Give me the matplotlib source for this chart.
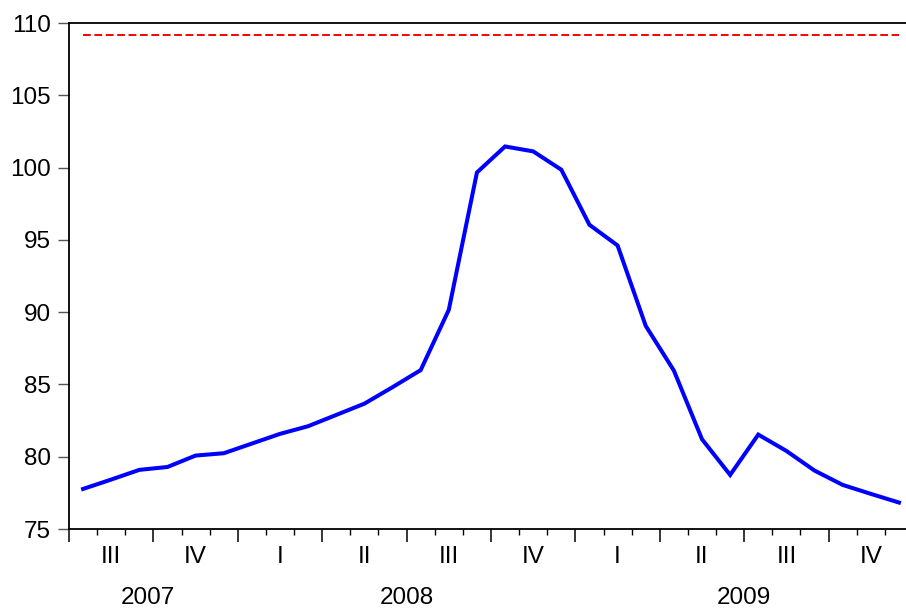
import matplotlib.pyplot as plt
from matplotlib.ticker import FixedLocator, NullFormatter
import matplotlib.transforms as mtransforms

plt.rcParams["font.family"] = ["Liberation Sans", "DejaVu Sans"]
plt.rcParams["lines.scale_dashes"] = False

# monthly index, Jul 2007 .. Dec 2009
index = [77.77, 78.42, 79.09, 79.29, 80.08, 80.24, 80.91, 81.58, 82.11, 82.89,
         83.67, 84.81, 85.99, 90.16, 99.66, 101.46, 101.12, 99.85, 96.04, 94.61,
         89.05, 85.96, 81.21, 78.74, 81.53, 80.40, 79.04, 78.05, 77.43, 76.83]
threshold = [109.2] * len(index)

quarter_labels = ["III", "IV", "I", "II", "III", "IV", "I", "II", "III", "IV"]
years = ["2007", "2008", "2009"]
quarters_per_year = [2, 4, 4]

x = [i + 0.5 for i in range(len(index))]

fig = plt.figure(figsize=(9.06, 6.15), dpi=100)
ax = fig.add_axes([69 / 906, 86 / 615, 844 / 906, 506 / 615])

ax.plot(x, threshold, color="#ff0000", lw=1.4, dashes=(5.6, 2.6))
ax.plot(x, index, color="#0000ff", lw=2.9, solid_joinstyle="miter")

ax.set_xlim(0, len(index))
ax.set_ylim(75, 110)
ax.set_yticks(range(75, 111, 5))

ax.xaxis.set_major_locator(FixedLocator(range(0, len(index) + 1, 3)))
ax.xaxis.set_minor_locator(FixedLocator(range(0, len(index) + 1)))
ax.xaxis.set_major_formatter(NullFormatter())
ax.tick_params(axis="x", which="major", length=9, width=1.1, direction="out")
ax.tick_params(axis="x", which="minor", length=4.5, width=1.0, direction="out")
ax.tick_params(axis="y", length=8, width=1.0, color="#555555", pad=5,
               labelsize=17.5, direction="out")

for side in ("left", "bottom", "top"):
    ax.spines[side].set_linewidth(1.3)
ax.spines["right"].set_visible(False)

trans = mtransforms.blended_transform_factory(ax.transData, ax.transAxes)
for q, lab in enumerate(quarter_labels):
    ax.text(3 * q + 1.5, -28 / 506, lab, transform=trans, ha="center",
            va="center", fontsize=17.5)

start = 0
for yr, nq in zip(years, quarters_per_year):
    # first year only covers two quarters, label sits a little left of centre
    pos = start + 1.5 * nq - (0.2 if nq < 4 else 0)
    ax.text(pos, -69 / 506, yr, transform=trans, ha="center",
            va="center", fontsize=17.5)
    start += 3 * nq

fig.savefig("out.png", dpi=100)
